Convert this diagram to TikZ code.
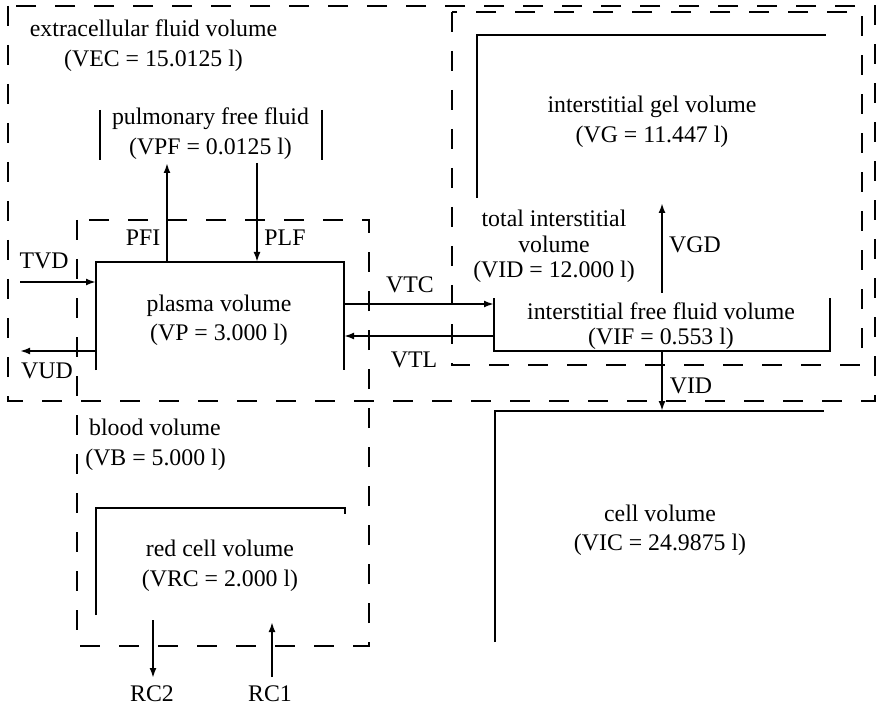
\documentclass[tikz,border=0pt]{standalone}
\usepackage{fontspec}
\setmainfont{Liberation Serif}
\usetikzlibrary{arrows.meta}
\begin{document}
\begin{tikzpicture}[x=1pt,y=-1pt,
  region/.style={draw=none, inner sep=0pt, outer sep=0pt, rectangle},
  wall/.style={line width=2pt, line cap=butt, line join=miter},
  dsh/.style={line width=2.2pt, dash pattern=on 20pt off 19pt},
  arr/.style={line width=2pt, -{Latex[length=10pt,width=7pt]}},
  lbl/.style={inner sep=0pt, anchor=base, font=\fontsize{23.8}{28}\selectfont},
]
\useasboundingbox (0,0) rectangle (877,708);

% regions
\node[region, minimum width=867pt, minimum height=395pt] (ecf) at (441.5,203.5) {};
\node[region, minimum width=410pt, minimum height=353pt] (inter) at (657,188.5) {};
\node[region, minimum width=292pt, minimum height=426pt] (blood) at (223,433) {};
\node[region, minimum width=248pt, minimum height=108pt] (plasma) at (220,316) {};
\node[region, minimum width=336pt, minimum height=53pt] (free) at (662,324.5) {};
\node[region, minimum width=349pt, minimum height=163pt] (gel) at (651.5,116.5) {};
\node[region, minimum width=329pt, minimum height=231pt] (cell) at (659.5,526.5) {};
\node[region, minimum width=249pt, minimum height=107pt] (red) at (220.5,561.5) {};
\node[region, minimum width=222pt, minimum height=50pt] (pulm) at (211,135) {};

% dashed compartments
\draw[dsh] (ecf.north west) rectangle (ecf.south east);
\draw[dsh] (inter.north west) rectangle (inter.south east);
\draw[dsh] (blood.north west) rectangle (blood.south east);

% solid compartments
\draw[wall] (plasma.south west) -- (plasma.north west) -- (plasma.north east) -- (plasma.south east);
\draw[wall] (free.north west) -- (free.south west) -- (free.south east) -- (free.north east);
\draw[wall] (gel.south west) -- (gel.north west) -- (gel.north east);
\draw[wall] (cell.south west) -- (cell.north west) -- (cell.north east);
\draw[wall] (red.south west) -- (red.north west) -- (red.north east) -- ([yshift=-6pt]red.north east);
\draw[wall] (pulm.north west) -- (pulm.south west);
\draw[wall] (pulm.north east) -- (pulm.south east);

% connector helpers
\coordinate (tvd) at (20,282);
\coordinate (vud) at (20,351);
\coordinate (pfi) at (167,0);
\coordinate (plf) at (257,0);
\coordinate (vtc) at (0,304);
\coordinate (vtl) at (0,336);
\coordinate (vg) at (662,0);
\coordinate (rctwoa) at (153,620);
\coordinate (rctwob) at (153,678);
\coordinate (rconea) at (272,677);
\coordinate (rconeb) at (272,622);

% connectors
\draw[arr] (tvd) -- (tvd -| plasma.west);
\draw[arr] (vud -| plasma.west) -- (vud);
\draw[arr] (pfi |- plasma.north) -- ([yshift=-3pt]pfi |- pulm.south);
\draw[arr] ([yshift=-3pt]plf |- pulm.south) -- (plf |- plasma.north);
\draw[arr] (vtc -| plasma.east) -- (vtc -| free.west);
\draw[arr] (vtl -| free.west) -- (vtl -| plasma.east);
\draw[arr] ([yshift=5pt]vg |- free.north) -- ([yshift=-5pt]vg |- gel.south);
\draw[arr] (vg |- free.south) -- (vg |- cell.north);
\draw[arr] (rctwoa) -- (rctwob);
\draw[arr] (rconea) -- (rconeb);

% texts
\node[lbl] (ecfA) at (153.5,36.7) {extracellular fluid volume};
\node[lbl] (ecfB) at (153.5,66.7) {(VEC = 15.0125 l)};
\node[lbl] (pulmA) at (210.5,125) {pulmonary free fluid};
\node[lbl] (pulmB) at (210.5,155) {(VPF = 0.0125 l)};
\node[lbl] (plasmaA) at (219,311.7) {plasma volume};
\node[lbl] (plasmaB) at (219,340) {(VP = 3.000 l)};
\node[lbl] (gelA) at (652,113) {interstitial gel volume};
\node[lbl] (gelB) at (652,143) {(VG = 11.447 l)};
\node[lbl] (interA) at (554,227) {total interstitial};
\node[lbl] (interB) at (554,252.5) {volume};
\node[lbl] (interC) at (554,277.7) {(VID = 12.000 l)};
\node[lbl] (freeA) at (661,319) {interstitial free fluid volume};
\node[lbl] (freeB) at (661,344) {(VIF = 0.553 l)};
\node[lbl] (cellA) at (660,521.7) {cell volume};
\node[lbl] (cellB) at (660,550) {(VIC = 24.9875 l)};
\node[lbl] (bloodA) at (155,435) {blood volume};
\node[lbl] (bloodB) at (155.5,465) {(VB = 5.000 l)};
\node[lbl] (redA) at (220,556) {red cell volume};
\node[lbl] (redB) at (220,586) {(VRC = 2.000 l)};

\node[lbl] (lpfi) at (143,246) {PFI};
\node[lbl] (lplf) at (285,246) {PLF};
\node[lbl] (ltvd) at (44,269) {TVD};
\node[lbl] (lvud) at (47,378) {VUD};
\node[lbl] (lvtc) at (410,293) {VTC};
\node[lbl] (lvtl) at (414,367) {VTL};
\node[lbl] (lvgd) at (695,252.5) {VGD};
\node[lbl] (lvid) at (691,393) {VID};
\node[lbl] (lrc2) at (152,701.7) {RC2};
\node[lbl] (lrc1) at (270,701.7) {RC1};
\end{tikzpicture}
\end{document}
